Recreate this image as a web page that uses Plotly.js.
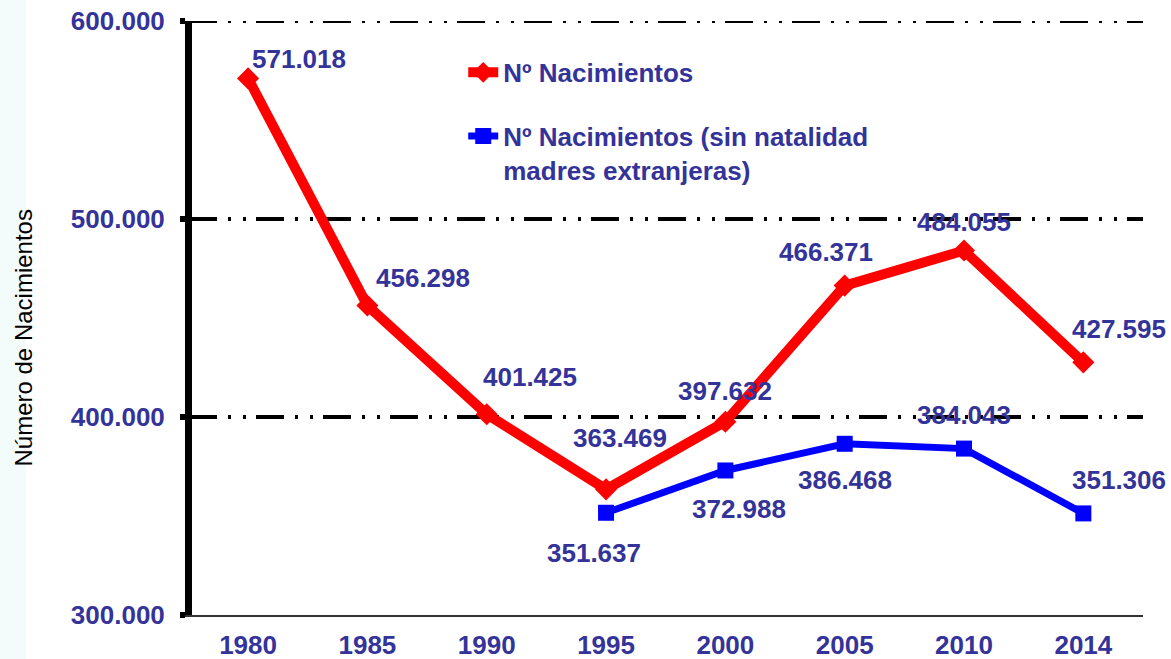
<!DOCTYPE html>
<html><head><meta charset="utf-8">
<script src="https://cdn.plot.ly/plotly-3.0.1.min.js"></script>
<style>html,body{margin:0;padding:0;background:#fff}#chart{width:1171px;height:659px}</style>
</head><body><div id="chart"></div>
<script>
// ---- data ----
const years = ['1980','1985','1990','1995','2000','2005','2010','2014'];
const births = [571018, 456298, 401425, 363469, 397632, 466371, 484055, 427595];
const yearsNoForeign = ['1995','2000','2005','2010','2014'];
const birthsNoForeign = [351637, 372988, 386468, 384043, 351306];
const yTickVals = [300000, 400000, 500000, 600000];
const yTickText = ['300.000', '400.000', '500.000', '600.000'];
const gridVals = [400000, 500000, 600000];
const seriesNames = ['Nº Nacimientos', 'Nº Nacimientos (sin natalidad<br>madres extranjeras)'];
const yTitle = 'Número de Nacimientos';

// ---- style ----
const FONT = 'Liberation Sans, Arial, sans-serif';
const LBL = '#333399';
const LFS = 26;
const birthsLabelShift = [[51,19],[56,28],[43,37],[14,51],[0,31],[-19,34],[0,29],[36,33]];
const noForeignLabelShift = [[-12,-40],[14,-39],[0,-36],[0,34],[36,33]];

function fmt(v){ return String(v).replace(/\B(?=(\d{3})+(?!\d))/g, '.'); }

const traces = [
  {x: years, y: births, name: seriesNames[0], type:'scatter', mode:'lines+markers',
   legendgroup:'a',
   line:{color:'#FF0000', width:10}, marker:{symbol:'diamond', size:17, color:'#FF0000'}},
  {x: yearsNoForeign, y: birthsNoForeign, name: seriesNames[1], type:'scatter', mode:'lines+markers',
   legendgroup:'b',
   line:{color:'#0000FF', width:7}, marker:{symbol:'square', size:16, color:'#0000FF'}}
];

const labelFont = {family:FONT, size:LFS, color:LBL, weight:'bold'};
const annotations = [];
years.forEach((yr,i)=>annotations.push({x: i, y: births[i], xref:'x', yref:'y', text: '<b>' + fmt(births[i]) + '</b>',
  showarrow:false, xanchor:'center', yanchor:'middle',
  xshift: birthsLabelShift[i][0], yshift: birthsLabelShift[i][1],
  font:{family:FONT, size:LFS, color:LBL}}));
yearsNoForeign.forEach((yr,i)=>annotations.push({x: years.indexOf(yr), y: birthsNoForeign[i], xref:'x', yref:'y',
  text: '<b>' + fmt(birthsNoForeign[i]) + '</b>',
  showarrow:false, xanchor:'center', yanchor:'middle',
  xshift: noForeignLabelShift[i][0], yshift: noForeignLabelShift[i][1],
  font:{family:FONT, size:LFS, color:LBL}}));
annotations.push({xref:'paper', yref:'paper', x:(22.5-192)/951, y:(615-338)/594, text:yTitle, textangle:-90,
  xanchor:'center', yanchor:'middle',
  showarrow:false, font:{family:FONT, size:24, color:'#000'}});

const gridShapes = gridVals.map(v => ({type:'line', xref:'paper', yref:'y', x0:-3/951, x1:1, y0:v, y1:v,
  line:{color:'#000', width:4, dash:'28px,11px,3px,12px,3px,10px'}, layer:'below'}));

const layout = {
  width:1171, height:659,
  margin:{l:192, r:28, t:21, b:44},
  paper_bgcolor:'#FFFFFF', plot_bgcolor:'rgba(0,0,0,0)',
  showlegend:true,
  legend:{x:0.2852, y:0.953, xanchor:'left', yanchor:'top', bgcolor:'rgba(0,0,0,0)',
    font:labelFont, traceorder:'grouped', tracegroupgap:27, valign:'top'},
  xaxis:{type:'category', range:[-0.47, 7.5], showline:true, linecolor:'#333', linewidth:1.5,
    ticks:'', showgrid:false, zeroline:false, ticklabelstandoff:6,
    tickfont:labelFont},
  yaxis:{range:[300000, 600000], tickmode:'array', tickvals:yTickVals, ticktext:yTickText,
    showline:true, linecolor:'#000', linewidth:7, ticks:'outside', ticklen:5, tickwidth:6, tickcolor:'#000',
    showgrid:false, zeroline:false, ticklabelstandoff:10, tickfont:labelFont},
  shapes:[{type:'rect', xref:'paper', yref:'paper', x0:-192/951, x1:(26-192)/951, y0:-44/594, y1:(659-21)/594,
    fillcolor:'#F3FBFB', line:{width:0}, layer:'below'}].concat(gridShapes),
  annotations: annotations
};

Plotly.newPlot('chart', traces, layout, {displayModeBar:false, staticPlot:true});
</script>
</body></html>
